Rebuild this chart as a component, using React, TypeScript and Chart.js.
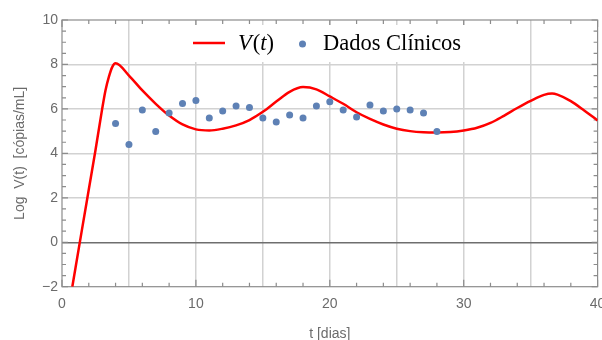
import React, { useEffect, useRef } from 'react';
import { Chart, registerables } from 'chart.js';

Chart.register(...registerables);

// Model curve V(t)
const curveT = [0.77, 1.5, 2, 2.5, 3, 3.25, 3.5, 3.75, 4, 5, 6, 7, 8, 9, 10, 11, 12, 13, 14, 15, 16, 17, 18, 19, 20, 21, 22, 23, 24, 25, 26, 27, 28, 29, 30, 31, 32, 33, 34, 35, 36, 36.6, 37, 38, 39, 40];
const curveV = [-2, 0.6, 2.37, 4.14, 6.0, 6.84, 7.44, 7.88, 8.05, 7.5, 6.83, 6.23, 5.7, 5.3, 5.08, 5.03, 5.11, 5.26, 5.5, 5.87, 6.33, 6.77, 6.98, 6.88, 6.56, 6.23, 5.85, 5.55, 5.3, 5.11, 5.0, 4.95, 4.94, 4.96, 5.03, 5.15, 5.37, 5.69, 6.04, 6.36, 6.63, 6.69, 6.64, 6.35, 5.93, 5.48];

// Clinical data
const dayT = [4, 5, 6, 7, 8, 9, 10, 11, 12, 13, 14, 15, 16, 17, 18, 19, 20, 21, 22, 23, 24, 25, 26, 27, 28];
const dayV = [5.34, 4.4, 5.95, 4.98, 5.82, 6.24, 6.38, 5.59, 5.9, 6.13, 6.06, 5.59, 5.41, 5.72, 5.59, 6.13, 6.32, 5.95, 5.64, 6.18, 5.9, 6.0, 5.95, 5.82, 4.98];

const xMin = 0, xMax = 40, xGridStep = 5, xLabelStep = 10, xMinorStep = 2;
const yMin = -2, yMax = 10, yStep = 2, yMinorStep = 0.5;

const legendLine = 'V(t)';
const legendDots = 'Dados Clínicos';
const xTitle = 't [dias]';
const yTitle = 'Log  V(t)  [cópias/mL]';

const RED = '#ff0000';
const BLUE = '#5e81b5';
const TICK_COLOR = '#6b6b6b';
const FRAME = '#8c8c8c';
const GRID = '#d2d2d2';
const SANS = '"Liberation Sans", Arial, sans-serif';
const SERIF = '"Liberation Serif", "Times New Roman", serif';

const decorPlugin = {
  id: 'decor',
  beforeDatasetsDraw(chart: any) {
    const { ctx, chartArea: a, scales } = chart;
    const xs = scales.x, ys = scales.y;
    ctx.save();
    ctx.strokeStyle = FRAME;
    ctx.lineWidth = 1.2;
    ctx.strokeRect(a.left, a.top, a.right - a.left, a.bottom - a.top);
    ctx.beginPath();
    for (let v = xMin; v <= xMax + 1e-9; v += xMinorStep) {
      const px = xs.getPixelForValue(v);
      const len = Math.abs(v % xLabelStep) < 1e-9 ? 7 : 4;
      ctx.moveTo(px, a.bottom); ctx.lineTo(px, a.bottom - len);
      ctx.moveTo(px, a.top); ctx.lineTo(px, a.top + len);
    }
    for (let v = yMin; v <= yMax + 1e-9; v += yMinorStep) {
      const py = ys.getPixelForValue(v);
      const len = Math.abs(v % yStep) < 1e-9 ? 6 : 4;
      ctx.moveTo(a.left, py); ctx.lineTo(a.left + len, py);
      ctx.moveTo(a.right, py); ctx.lineTo(a.right - len, py);
    }
    ctx.stroke();
    ctx.restore();
  },
  afterDraw(chart: any) {
    const { ctx, chartArea: a } = chart;
    ctx.save();
    // legend box
    ctx.fillStyle = '#ffffff';
    ctx.fillRect(186, 25, 286, 37);
    ctx.strokeStyle = RED;
    ctx.lineWidth = 2.5;
    ctx.beginPath();
    ctx.moveTo(193, 43); ctx.lineTo(225, 43);
    ctx.stroke();
    ctx.fillStyle = '#000000';
    ctx.textBaseline = 'alphabetic';
    ctx.textAlign = 'left';
    let x = 238;
    const parts: [string, boolean][] = [['V', true], ['(', false], ['t', true], [')', false]];
    for (const [s, it] of parts) {
      ctx.font = (it ? 'italic ' : '') + '22.5px ' + SERIF;
      ctx.fillText(s, x, 50);
      x += ctx.measureText(s).width + (s === 'V' ? 1 : 0);
    }
    ctx.fillStyle = BLUE;
    ctx.beginPath();
    ctx.arc(302.5, 44, 3.5, 0, Math.PI * 2);
    ctx.fill();
    ctx.fillStyle = '#000000';
    ctx.font = '22.5px ' + SERIF;
    ctx.fillText(legendDots, 323, 50);
    // axis titles
    ctx.fillStyle = TICK_COLOR;
    ctx.font = '14px ' + SANS;
    ctx.textAlign = 'center';
    ctx.textBaseline = 'middle';
    ctx.fillText(xTitle, (a.left + a.right) / 2, 334.5);
    ctx.translate(20, (a.top + a.bottom) / 2);
    ctx.rotate(-Math.PI / 2);
    ctx.fillText(yTitle, 0, 0);
    ctx.restore();
  },
};

export default function App() {
  const ref = useRef<HTMLCanvasElement>(null);
  useEffect(() => {
    if (!ref.current) return;
    const chart = new Chart(ref.current, {
      type: 'scatter',
      data: {
        datasets: [
          {
            label: legendDots,
            data: dayT.map((t, i) => ({ x: t, y: dayV[i] })),
            backgroundColor: BLUE,
            borderColor: BLUE,
            pointRadius: 3.5,
            pointBorderWidth: 0,
            showLine: false,
            order: 0,
          },
          {
            label: legendLine,
            data: curveT.map((t, i) => ({ x: t, y: curveV[i] })),
            showLine: true,
            borderColor: RED,
            backgroundColor: RED,
            borderWidth: 2.5,
            pointRadius: 0,
            cubicInterpolationMode: 'monotone',
            order: 1,
          },
        ],
      },
      options: {
        responsive: false,
        animation: false,
        events: [],
        layout: { padding: { left: 0, top: 20, right: 4.4, bottom: 0 } },
        plugins: { legend: { display: false }, tooltip: { enabled: false }, title: { display: false } },
        scales: {
          x: {
            type: 'linear',
            min: xMin,
            max: xMax,
            border: { display: false },
            grid: {
              drawTicks: false,
              lineWidth: 1.5,
              color: (c: any) => (c.tick && (c.tick.value === xMin || c.tick.value === xMax) ? 'rgba(0,0,0,0)' : GRID),
            },
            ticks: {
              stepSize: xGridStep,
              autoSkip: false,
              maxRotation: 0,
              padding: 9,
              color: TICK_COLOR,
              font: { family: SANS, size: 14 },
              callback: (v: any) => (Math.abs(v % xLabelStep) < 1e-9 ? String(v) : ''),
            },
            afterFit: (s: any) => { s.height = 53.3; s.paddingLeft = 0; s.paddingRight = 0; },
          },
          y: {
            type: 'linear',
            min: yMin,
            max: yMax,
            border: { display: false },
            grid: {
              drawTicks: false,
              lineWidth: (c: any) => (c.tick && c.tick.value === 0 ? 1.4 : 1.5),
              color: (c: any) => {
                const v = c.tick ? c.tick.value : null;
                if (v === 0) return '#6e6e6e';
                if (v === yMin || v === yMax) return 'rgba(0,0,0,0)';
                return GRID;
              },
            },
            ticks: {
              stepSize: yStep,
              padding: 4,
              color: TICK_COLOR,
              font: { family: SANS, size: 14 },
              callback: (v: any) => (v < 0 ? '\u2212' + Math.abs(v) : String(v)),
            },
            afterFit: (s: any) => { s.width = 62; s.paddingTop = 0; s.paddingBottom = 0; },
          },
        },
      },
      plugins: [decorPlugin],
    } as any);
    return () => chart.destroy();
  }, []);
  return (
    <div style={{ position: 'absolute', left: 0, top: 0, width: 602, height: 340, background: '#fff' }}>
      <canvas ref={ref} width={602} height={340} style={{ display: 'block', width: 602, height: 340 }} />
    </div>
  );
}
